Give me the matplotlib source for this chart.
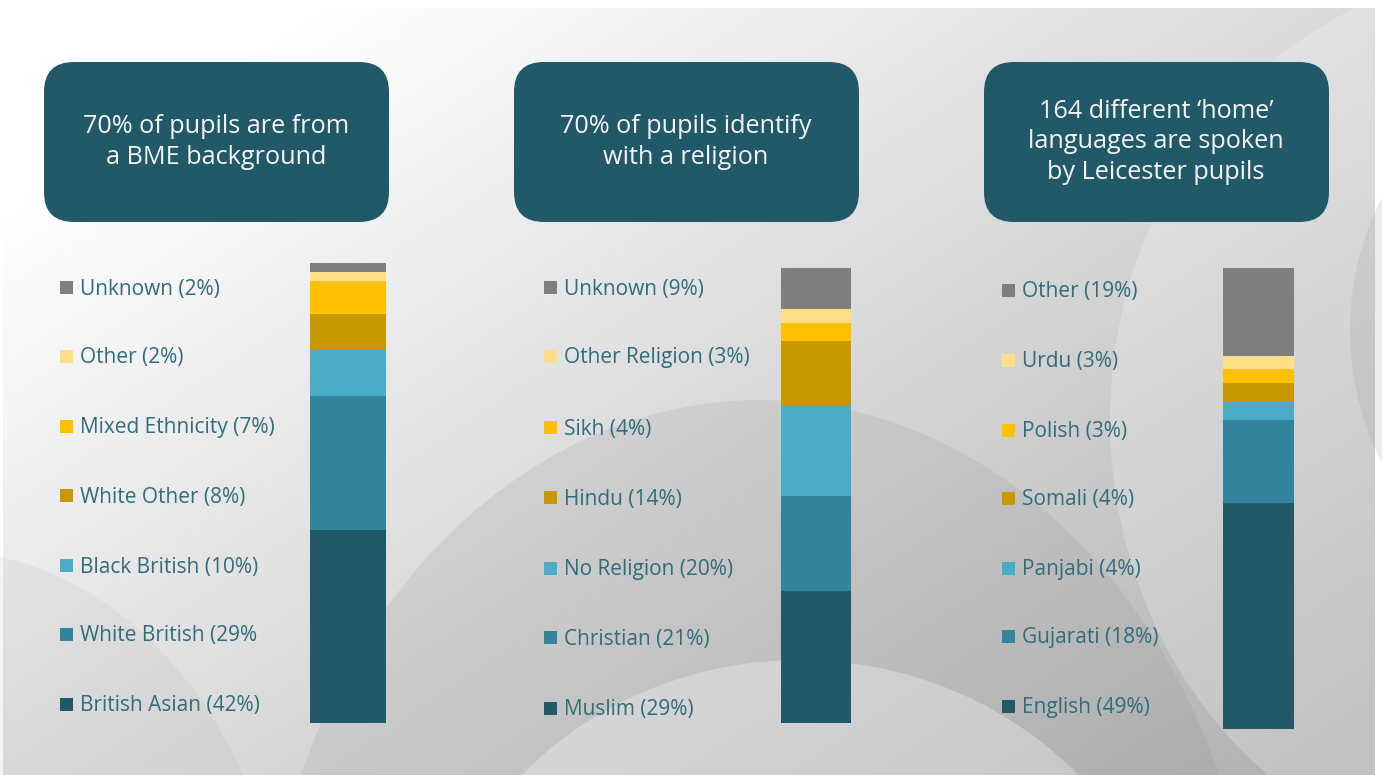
import numpy as np
import matplotlib
matplotlib.use("Agg")
import matplotlib.pyplot as plt
import matplotlib.patches as patches
from matplotlib.patches import FancyBboxPatch, Ellipse

plt.rcParams['font.family'] = ['Open Sans', 'DejaVu Sans']

# --- data (bottom to top) ---
ethnicity_labels = ["British Asian (42%)", "White British (29%", "Black British (10%)",
                    "White Other (8%)", "Mixed Ethnicity (7%)", "Other (2%)", "Unknown (2%)"]
ethnicity_values = [42, 29, 10, 8, 7, 2, 2]

religion_labels = ["Muslim (29%)", "Christian (21%)", "No Religion (20%)", "Hindu (14%)",
                   "Sikh (4%)", "Other Religion (3%)", "Unknown (9%)"]
religion_values = [29, 21, 20, 14, 4, 3, 9]

language_labels = ["English (49%)", "Gujarati (18%)", "Panjabi (4%)", "Somali (4%)",
                   "Polish (3%)", "Urdu (3%)", "Other (19%)"]
language_values = [49, 18, 4, 4, 3, 3, 19]

titles = ["70% of pupils are from\na BME background",
          "70% of pupils identify\nwith a religion",
          "164 different \u2018home\u2019\nlanguages are spoken\nby Leicester pupils"]

colors = ["#215968", "#31849B", "#4BACC6", "#C99700", "#FFC000", "#FFDE88", "#7F7F7F"]
box_color = "#215968"
label_color = "#2F6C7C"

W, H = 1382, 775
fig = plt.figure(figsize=(W / 100, H / 100), dpi=100)

# background in pixel coords
bg = fig.add_axes([0, 0, 1, 1])
bg.set_xlim(0, W)
bg.set_ylim(H, 0)
bg.axis('off')

# diagonal white -> grey gradient
yy, xx = np.mgrid[0:H:4, 0:W:4]
t = np.clip((xx / W) * 0.65 + (yy / H) * 0.55 - 0.15, 0, 1)
shade = 1.0 - 0.30 * t
img = np.dstack([shade, shade, shade])
bg.imshow(img, extent=[3, 1375, H, 8], aspect='auto', zorder=0)

# soft swooshes
swooshes = [
    ((1520, 420), 820, 900, "#ffffff", 0.22),
    ((1560, 330), 420, 500, "#9a9a9a", 0.18),
    ((760, 1020), 1000, 1240, "#8c8c8c", 0.16),
    ((800, 1020), 760, 720, "#ffffff", 0.30),
    ((-60, 1000), 700, 900, "#9a9a9a", 0.10),
]
for (cx, cy), w, h, c, a in swooshes:
    e = Ellipse((cx, cy), w, h, facecolor=c, edgecolor='none', alpha=a, zorder=1)
    e.set_clip_path(patches.Rectangle((3, 8), 1372, H - 8, transform=bg.transData))
    bg.add_patch(e)

panels = [
    dict(box_x=44, title=titles[0], labels=ethnicity_labels, values=ethnicity_values,
         sq_x=60, text_x=80, label_y=[705, 635, 566, 496, 427, 357, 288],
         bar=(310, 386, 263, 723)),
    dict(box_x=514, title=titles[1], labels=religion_labels, values=religion_values,
         sq_x=544, text_x=564, label_y=[709, 638, 569, 498, 428, 357, 288],
         bar=(781, 851, 268, 723)),
    dict(box_x=984, title=titles[2], labels=language_labels, values=language_values,
         sq_x=1002, text_x=1022, label_y=[707, 637, 569, 499, 431, 361, 291],
         bar=(1223, 1294, 268, 729)),
]

for p in panels:
    # title box
    bx = p['box_x']
    box = FancyBboxPatch((bx + 30, 62 + 30), 345 - 60, 160 - 60,
                         boxstyle="round,pad=30", facecolor=box_color,
                         edgecolor='none', zorder=3)
    bg.add_patch(box)
    bg.text(bx + 172, 142, p['title'], ha='center', va='center', color='#F4F4F4',
            fontsize=18.2, linespacing=1.28, zorder=4)

    # legend entries
    for lab, c, ly in zip(p['labels'], colors, p['label_y']):
        bg.add_patch(patches.Rectangle((p['sq_x'], ly - 7), 13, 13, facecolor=c,
                                       edgecolor='none', zorder=3))
        bg.text(p['text_x'], ly + 1, lab, ha='left', va='center', color=label_color,
                fontsize=15, zorder=4)

    # stacked bar
    x0, x1, y0, y1 = p['bar']
    ax = fig.add_axes([x0 / W, 1 - y1 / H, (x1 - x0) / W, (y1 - y0) / H])
    bottom = 0
    for v, c in zip(p['values'], colors):
        ax.bar(0, v, bottom=bottom, width=1, color=c, edgecolor='none')
        bottom += v
    ax.set_xlim(-0.5, 0.5)
    ax.set_ylim(0, sum(p['values']))
    ax.axis('off')

fig.savefig("out.png", dpi=100)
